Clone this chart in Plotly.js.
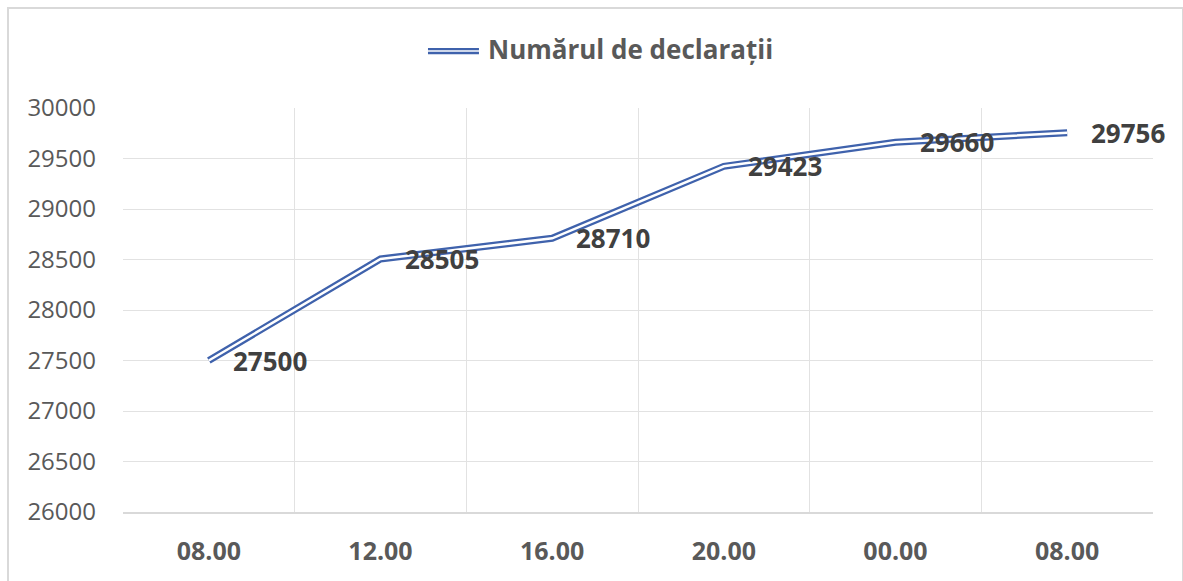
<!DOCTYPE html>
<html>
<head>
<meta charset="utf-8">
<script src="https://cdn.plot.ly/plotly-3.0.1.min.js"></script>
<style>
html,body{margin:0;padding:0;background:#fff;}
#wrap{position:relative;width:1183px;height:581px;overflow:hidden;}
#chart{width:1183px;height:581px;}
#frame{position:absolute;left:7px;top:7px;width:1173px;height:600px;border-left:2px solid #d9d9d9;border-top:2px solid #d9d9d9;border-right:2px solid #d9d9d9;pointer-events:none;}
</style>
</head>
<body>
<div id="wrap"><div id="chart"></div><div id="frame"></div></div>
<script>
const categories = ["08.00", "12.00", "16.00", "20.00", "00.00", "08.00"];
const values = [27500, 28505, 28710, 29423, 29660, 29756];
const seriesName = "Numărul de declarații";
const yTicks = [26000, 26500, 27000, 27500, 28000, 28500, 29000, 29500, 30000];

const idx = categories.map((c, i) => i);
const lineColor = "#3F62AC";
const font = "Open Sans, Liberation Sans, sans-serif";

const traces = [
  {x: idx, y: values, type: "scatter", mode: "lines", line: {color: lineColor, width: 7}, showlegend: false, hoverinfo: "skip"},
  {x: idx, y: values, type: "scatter", mode: "lines", line: {color: "#ffffff", width: 2.5}, showlegend: false, hoverinfo: "skip"},
  {x: idx, y: values, type: "scatter", mode: "lines", line: {color: "rgba(0,0,0,0)", width: 0}, xaxis: "x2", showlegend: false, hoverinfo: "skip"}
];

const annotations = values.map((v, i) => ({
  x: i, y: v, xref: "x", yref: "y", text: String(v), showarrow: false,
  xanchor: "left", yanchor: "middle", xshift: 22,
  font: {family: font, size: 26, color: "#404040", weight: "bold"}
}));
annotations.push({
  x: 0.3524, y: 1.146, xref: "paper", yref: "paper", text: seriesName, showarrow: false,
  xanchor: "left", yanchor: "middle",
  font: {family: font, size: 26, color: "#595959", weight: "bold"}
});

const layout = {
  width: 1183, height: 581,
  margin: {l: 123, r: 30, t: 108, b: 69},
  paper_bgcolor: "#ffffff", plot_bgcolor: "#ffffff",
  showlegend: false,
  xaxis: {
    range: [-0.5, categories.length - 0.5],
    tick0: -0.5, dtick: 1, tickmode: "linear",
    showticklabels: false, ticks: "",
    showgrid: true, gridcolor: "#e2e2e2", gridwidth: 1,
    showline: true, linecolor: "#d9d9d9", linewidth: 1.5,
    zeroline: false, fixedrange: true
  },
  xaxis2: {
    overlaying: "x", side: "bottom",
    range: [-0.5, categories.length - 0.5],
    tickmode: "array", tickvals: idx, ticktext: categories,
    showgrid: false, zeroline: false, ticks: "", showline: false,
    ticklabelstandoff: 22,
    tickfont: {family: font, size: 25, color: "#595959", weight: "bold"}
  },
  yaxis: {
    range: [26000, 30000],
    tickmode: "array", tickvals: yTicks, ticktext: yTicks.map(String),
    showgrid: true, gridcolor: "#e2e2e2", gridwidth: 1,
    zeroline: false, ticks: "", showline: false,
    ticklabelstandoff: 26,
    tickfont: {family: font, size: 24, color: "#595959"}
  },
  shapes: [
    {type: "line", xref: "paper", yref: "paper", x0: 0.2961, x1: 0.3456, y0: 1.1458, y1: 1.1458, line: {color: lineColor, width: 2.3}},
    {type: "line", xref: "paper", yref: "paper", x0: 0.2961, x1: 0.3456, y0: 1.1361, y1: 1.1361, line: {color: lineColor, width: 2.3}}
  ],
  annotations: annotations
};

Plotly.newPlot("chart", traces, layout, {displayModeBar: false, staticPlot: true});
</script>
</body>
</html>
